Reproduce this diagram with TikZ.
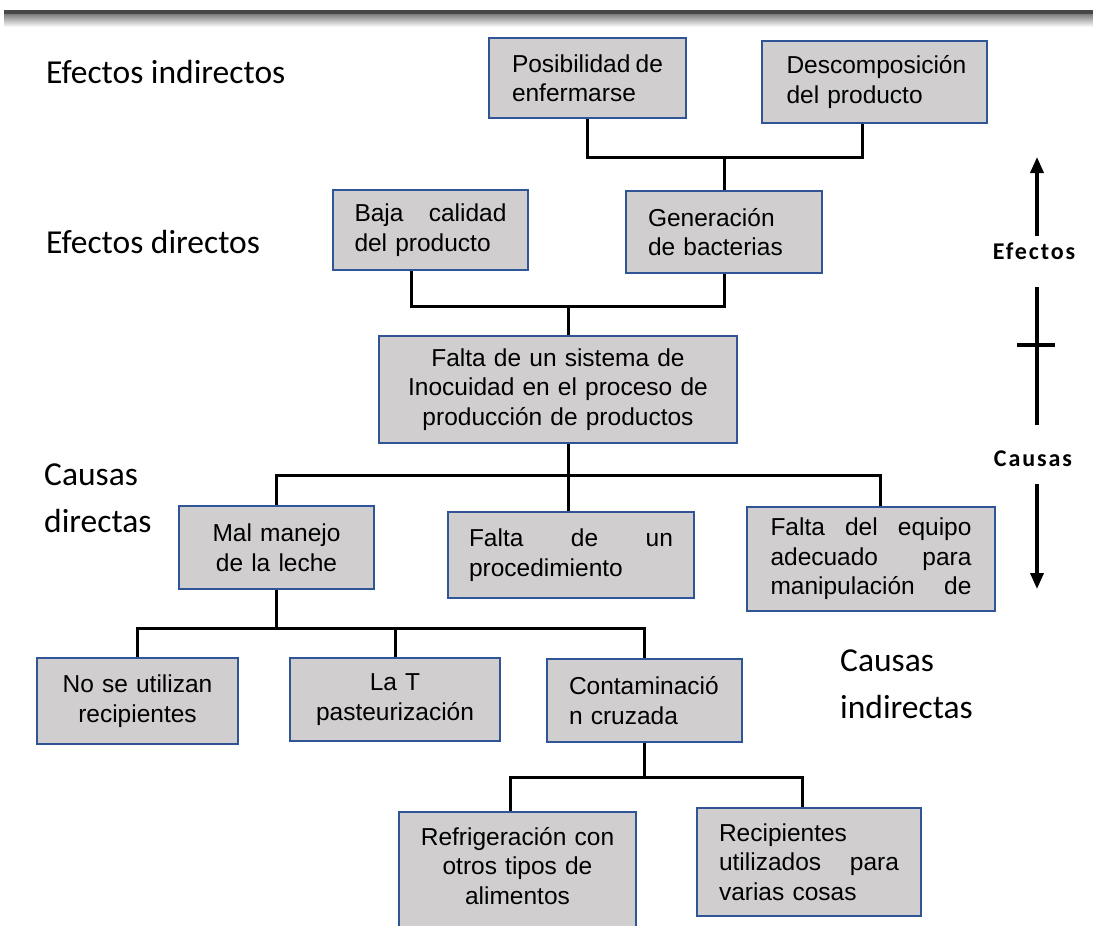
\documentclass[tikz,border=0pt]{standalone}
\usepackage{fontspec}
\setmainfont{Liberation Sans}
\newfontfamily\califont{Carlito}
\usetikzlibrary{arrows.meta}
\definecolor{boxfill}{HTML}{D0CECE}
\definecolor{boxline}{HTML}{2F5597}
\begin{document}
\begin{tikzpicture}[x=1pt,y=-1pt,
  box/.style={draw=boxline, fill=boxfill, line width=2pt, inner sep=0pt, font=\fontsize{24.5}{29.5}\selectfont},
  txt/.style={inner sep=0pt, font=\fontsize{24.5}{29.5}\selectfont},
  conn/.style={line width=3pt, black},
  lbl/.style={font=\califont\fontsize{33.5}{47}\selectfont, align=left, anchor=west, inner sep=0pt},
  side/.style={font=\califont\bfseries\fontsize{24}{28}\selectfont\addfontfeature{LetterSpace=8}, inner sep=0pt},
  axisline/.style={line width=3.5pt, black},
  axisarrow/.style={axisline, -{Triangle[width=13pt,length=16pt]}},
]
\path[use as bounding box, clip] (0,0) rectangle (1093,926);
\fill[white] (0,0) rectangle (1093,926);
% top bar
\shade[top color=black!55, bottom color=white] (4,13) rectangle (1093,27);
\fill[black!72] (4,9.5) rectangle (1093,13.5);

% effects
\node[box, minimum width=197, minimum height=80, text width=151, align=left] (pos) at (587.5,78) {Posibilidad\hfill de\\enfermarse};
\node[box, minimum width=225, minimum height=82, text width=176, align=left] (desc) at (874.5,82) {Descomposición\\del producto};
\node[box, minimum width=195, minimum height=80, text width=152, align=left] (baja) at (430.5,230) {Baja\hfill calidad\\del producto};
\node[box, minimum width=196, minimum height=82, text width=152, align=left] (gen) at (724,232) {Generación\\de bacterias};
\node[box, minimum width=358, minimum height=107, text width=330, align=center] (sis) at (558,389.5) {Falta de un sistema de\\Inocuidad en el proceso de\\producción de productos};

% direct causes
\node[box, minimum width=195, minimum height=83, text width=180, align=center] (mal) at (276.5,547.5) {Mal manejo\\de la leche};
\node[box, minimum width=246, minimum height=86, text width=204, align=left] (proc) at (571,555) {Falta\hfill de\hfill un\\procedimiento};
\node[box, minimum width=248, minimum height=104, text width=201, align=left] (eq) at (871,559) {Falta\hfill del\hfill equipo\\adecuado\hfill para\\manipulación\hfill de};

% indirect causes
\node[box, minimum width=201, minimum height=86, text width=190, align=center] (nose) at (137.5,701) {No se utilizan\\recipientes};
\node[box, minimum width=210, minimum height=83, text width=190, align=center] (lat) at (395,699.5) {La T\\pasteurización};
\node[box, minimum width=195, minimum height=83, text width=151, align=left] (cont) at (644.5,700.5) {Contaminació\\n cruzada};
\node[box, minimum width=237, minimum height=140, anchor=north] (ref) at (517.5,811) {};
\node[txt, text width=230, align=center] (reft) at (517.5,866) {Refrigeración con\\otros tipos de\\alimentos};
\node[box, minimum width=224, minimum height=108, text width=180, align=left] (rec) at (809,862) {Recipientes\\utilizados\hfill para\\varias cosas};

% connectors
\coordinate (j1) at (724,157);
\coordinate (dn) at ([xshift=-12.5pt]desc.south);
\draw[conn] (pos.south) |- (j1) -| (dn);
\draw[conn] (gen.north) -- (j1);

\coordinate (j2) at (568,306);
\coordinate (bj) at ([xshift=-19.5pt]baja.south);
\coordinate (sn) at ([xshift=10pt]sis.north);
\draw[conn] (bj) |- (j2) -| (gen.south);
\draw[conn] (sn) -- (j2);

\coordinate (j3) at (568,475);
\coordinate (ss) at ([xshift=10pt]sis.south);
\coordinate (en) at ([xshift=9pt]eq.north);
\draw[conn] (ss) -- (j3);
\draw[conn] (mal.north) |- (j3) -| (en);
\draw[conn] (j3) -- (j3 |- proc.north);

\coordinate (j4) at (276.5,628);
\draw[conn] (mal.south) -- (j4);
\draw[conn] (nose.north) |- (cont.north |- j4) -- (cont.north);
\draw[conn] (lat.north) -- (lat.north |- j4);

\coordinate (j5) at (645,777);
\coordinate (rn) at ([xshift=-7.5pt]ref.north);
\coordinate (recn) at ([xshift=-7pt]rec.north);
\draw[conn] (cont.south) -- (cont.south |- j5);
\draw[conn] (rn) |- (recn |- j5) -- (recn);

% left labels
\node[lbl] (ei) at (46,72) {Efectos indirectos};
\node[lbl] (ed) at (46,242) {Efectos directos};
\node[lbl] (cd) at (44,498) {Causas\\directas};
\node[lbl] (ci) at (840,684) {Causas\\indirectas};

% right axis
\node[side] (ef) at (1034,251) {Efectos};
\node[side] (ca) at (1033,459) {Causas};
\coordinate (upbase) at (1037,236);
\coordinate (uptip) at (1037,157);
\draw[axisarrow] (upbase) -- (uptip);
\coordinate (mt) at (1037,287);
\coordinate (mb) at (1037,425);
\draw[axisline] (mt) -- (mb);
\coordinate (cl) at (1017,345);
\coordinate (cr) at (1055,345);
\draw[axisline] (cl) -- (cr);
\coordinate (dnbase) at (1037,484);
\coordinate (dntip) at (1037,589);
\draw[axisarrow] (dnbase) -- (dntip);
\end{tikzpicture}
\end{document}
